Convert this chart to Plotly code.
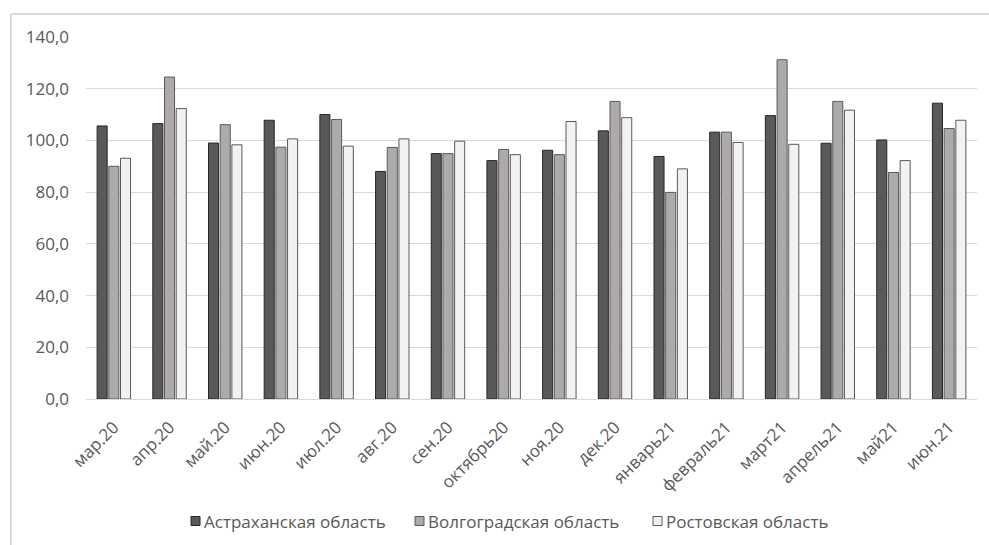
import plotly.graph_objects as go

months = ["мар.20", "апр.20", "май.20", "июн.20", "июл.20", "авг.20", "сен.20",
          "октябрь20", "ноя.20", "дек.20", "январь21", "февраль21", "март21",
          "апрель21", "май21", "июн.21"]

astrakhan = [105.6, 106.5, 99.0, 107.8, 110.0, 88.0, 94.9, 92.2, 96.2, 103.7,
             93.8, 103.2, 109.6, 98.9, 100.2, 114.4]
volgograd = [90.0, 124.5, 106.1, 97.4, 108.1, 97.3, 94.9, 96.5, 94.5, 115.1,
             79.9, 103.2, 131.2, 115.1, 87.6, 104.6]
rostov = [93.1, 112.3, 98.3, 100.6, 97.8, 100.6, 99.7, 94.5, 107.3, 108.8,
          89.0, 99.2, 98.5, 111.7, 92.2, 107.8]

series_names = ["Астраханская область", "Волгоградская область", "Ростовская область"]
y_ticks = [0, 20, 40, 60, 80, 100, 120, 140]
y_tick_text = ["0,0", "20,0", "40,0", "60,0", "80,0", "100,0", "120,0", "140,0"]

W, H = 989, 545
L, R, T, B = 86, 12, 37, 146
pw, ph = W - L - R, H - T - B

text_color = "#595959"
font_family = "Open Sans, Liberation Sans, sans-serif"
fs = 17

styles = [("#595959", "#262626"), ("#aeaaaa", "#595959"), ("#f2f2f2", "#595959")]

fig = go.Figure()
for name, vals, (fill, edge) in zip(series_names, [astrakhan, volgograd, rostov], styles):
    fig.add_trace(go.Bar(
        x=months, y=vals, name=name,
        marker=dict(color=fill, line=dict(color=edge, width=1)),
    ))


def px_x(p):
    return (p - L) / pw


def px_y(p):
    return (H - B - p) / ph


# frame around the chart area
shapes = [
    dict(type="line", xref="paper", yref="paper",
         x0=px_x(11), x1=px_x(11), y0=px_y(14), y1=px_y(560),
         line=dict(color="#d9d9d9", width=2)),
    dict(type="line", xref="paper", yref="paper",
         x0=px_x(11), x1=px_x(1000), y0=px_y(14), y1=px_y(14),
         line=dict(color="#d9d9d9", width=2)),
]
annotations = []

# legend row: small outlined square followed by the series name
legend_x = [191, 415, 653]
legend_y = 521
sq = 9
for lx, name, (fill, edge) in zip(legend_x, series_names, styles):
    shapes.append(dict(
        type="rect", xref="paper", yref="paper",
        x0=px_x(lx), x1=px_x(lx + sq),
        y0=px_y(legend_y + sq / 2), y1=px_y(legend_y - sq / 2),
        fillcolor=fill, line=dict(color=edge, width=1),
    ))
    annotations.append(dict(
        text=name, xref="paper", yref="paper",
        x=px_x(lx + sq + 2), y=px_y(legend_y),
        xanchor="left", yanchor="middle", showarrow=False,
        font=dict(family=font_family, size=fs, color=text_color),
    ))

fig.update_layout(
    width=W, height=H,
    margin=dict(l=L, r=R, t=T, b=B, autoexpand=False),
    paper_bgcolor="white", plot_bgcolor="white",
    barmode="group", bargap=0.37, bargroupgap=0.14,
    font=dict(family=font_family, size=fs, color=text_color),
    showlegend=False,
    xaxis=dict(
        type="category", tickangle=-45, showgrid=False, zeroline=False,
        showline=False, ticks="", ticklabelstandoff=14,
        tickfont=dict(family=font_family, size=fs, color=text_color),
    ),
    yaxis=dict(
        range=[0, 140], tickvals=y_ticks, ticktext=y_tick_text,
        showgrid=True, gridcolor="#d9d9d9", gridwidth=1,
        zeroline=True, zerolinecolor="#d9d9d9", zerolinewidth=1,
        showline=False, ticks="", ticklabelstandoff=16,
        tickfont=dict(family=font_family, size=fs, color=text_color),
    ),
    shapes=shapes,
    annotations=annotations,
)

fig.write_html("out.html")
